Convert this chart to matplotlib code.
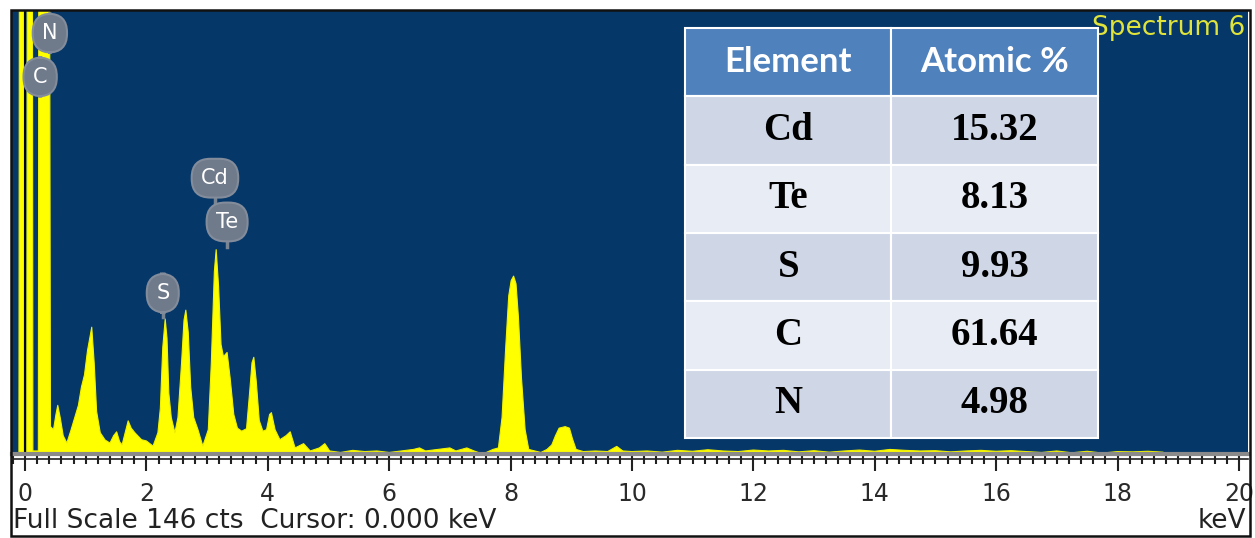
import matplotlib
matplotlib.use("Agg")
import matplotlib.pyplot as plt
from matplotlib.ticker import MultipleLocator
from matplotlib.patches import Rectangle
from matplotlib.lines import Line2D

# EDS spectrum (keV, counts); peaks above 146 run off scale
energy_kev = [-0.21, -0.10, -0.09, -0.03, -0.02, 0.03, 0.04, 0.12, 0.13, 0.22, 0.23, 0.40,
              0.42, 0.47, 0.51, 0.54, 0.58, 0.63, 0.69, 0.76, 0.82, 0.88, 0.93, 0.98, 1.03,
              1.10, 1.14, 1.18, 1.24, 1.32, 1.40, 1.46, 1.51, 1.56, 1.60, 1.65, 1.70, 1.75,
              1.81, 1.92, 2.00, 2.11, 2.19, 2.23, 2.27, 2.31, 2.34, 2.37, 2.41, 2.47, 2.52,
              2.58, 2.62, 2.65, 2.69, 2.73, 2.78, 2.85, 2.93, 3.02, 3.07, 3.12, 3.15, 3.19,
              3.23, 3.27, 3.33, 3.38, 3.44, 3.50, 3.57, 3.65, 3.70, 3.74, 3.77, 3.81, 3.86,
              3.92, 3.98, 4.03, 4.06, 4.12, 4.20, 4.30, 4.37, 4.45, 4.59, 4.70, 4.85, 4.94,
              5.02, 5.20, 5.40, 5.60, 5.80, 6.00, 6.20, 6.40, 6.50, 6.60, 6.80, 7.00, 7.10,
              7.28, 7.40, 7.50, 7.60, 7.71, 7.80, 7.86, 7.92, 7.97, 8.01, 8.05, 8.09, 8.13,
              8.18, 8.24, 8.30, 8.40, 8.50, 8.60, 8.68, 8.74, 8.80, 8.90, 8.97, 9.02, 9.08,
              9.20, 9.40, 9.60, 9.75, 9.85, 10.0, 10.25, 10.5, 10.75, 11.0, 11.25, 11.5,
              11.75, 12.0, 12.25, 12.5, 12.75, 13.0, 13.25, 13.5, 13.75, 14.0, 14.25, 14.5,
              14.75, 15.0, 15.25, 15.5, 15.75, 16.0, 16.25, 16.5, 16.75, 17.0, 17.25, 17.5,
              17.75, 18.0, 18.25, 18.5, 18.75, 18.8, 20.2]
counts = [0, 0, 220, 220, 0, 0, 220, 220, 1, 1, 220, 220,
          9, 8, 13, 16, 12, 6, 3.6, 8, 12, 16, 22, 26, 34,
          41.7, 30, 14, 7, 4.6, 3.6, 6, 7.3, 4, 3, 7, 10.9, 8.5,
          7, 4.7, 4.3, 2.6, 7, 15, 35, 44.4, 38, 20, 12, 7, 12,
          30, 44, 47.3, 40, 22, 12, 8, 2.6, 8, 30, 60, 67.2, 55,
          36, 32, 33.4, 25, 13, 8.5, 7.5, 8.3, 20, 30, 31.8, 24, 11,
          7.5, 8, 13, 13.6, 8, 4.7, 6, 7.3, 2, 3.4, 1, 2, 3.4,
          1, 0.5, 1.2, 0.8, 1.0, 0.5, 1, 1.5, 2, 1, 1.5, 2, 1,
          2, 1, 0.3, 0.5, 1.5, 2, 12, 35, 52, 57, 58.5, 56, 45,
          25, 8, 1.5, 1, 0.5, 1.5, 3, 6, 8.5, 9, 8.5, 5, 1.5,
          0.8, 1, 0.8, 2.5, 1, 0.8, 1.0, 0.6, 1.2, 0.9, 1.4, 1.0,
          0.8, 1.3, 1.0, 1.2, 0.7, 1.1, 0.6, 1.0, 1.3, 0.9, 1.5, 1.2,
          1.0, 1.1, 0.7, 1.0, 1.2, 0.9, 1.1, 0.8, 0.5, 1.0, 0.4, 0.9,
          0.3, 0.8, 0.7, 0.9, 0.6, 0, 0]

full_scale = 146

# peak labels: (symbol, keV, counts of bubble, counts where stem ends)
peak_labels = [("N", 0.41, 138.4, None), ("C", 0.25, 124.0, None),
               ("Cd", 3.13, 90.7, 82.0), ("Te", 3.33, 76.3, 68.0), ("S", 2.27, 52.9, 45.0)]

# quantification table
elements = ["Cd", "Te", "S", "C", "N"]
atomic_pct = ["15.32", "8.13", "9.93", "61.64", "4.98"]

W, H = 1255, 538
fig = plt.figure(figsize=(W / 100, H / 100), dpi=100)
fig.patch.set_facecolor("white")

ax = fig.add_axes([12 / W, (H - 454) / H, 1236 / W, 444 / H])
ax.set_facecolor("#053769")
ax.fill_between(energy_kev, counts, 0, color="#ffff00", lw=0)
ax.plot(energy_kev, counts, color="#f2f200", lw=0.8)
ax.axvline(0, color="black", lw=1.3)
ax.set_xlim(-0.214, 20.15)
ax.set_ylim(0, full_scale)

ax.set_yticks([])
for s in ("left", "right", "top"):
    ax.spines[s].set_visible(False)
ax.spines["bottom"].set_color("#8a8a8a")
ax.spines["bottom"].set_linewidth(3)
ax.set_xticks(range(0, 21, 2))
ax.xaxis.set_minor_locator(MultipleLocator(0.2))
ax.tick_params(axis="x", which="major", direction="out", length=12, width=1.5,
               color="#222222", pad=8, labelsize=17, labelcolor="#2a2a2a")
ax.tick_params(axis="x", which="minor", direction="out", length=7, width=1.5,
               color="#222222")
for lab in ax.get_xticklabels():
    lab.set_fontfamily("DejaVu Sans")

# element bubbles
for sym, kev, y, stem in peak_labels:
    if stem is not None:
        ax.plot([kev, kev], [y, stem], color="#7a8594", lw=2.5, zorder=4)
    ax.text(kev, y, sym, ha="center", va="center", fontsize=15, color="white",
            zorder=5, bbox=dict(boxstyle="round,pad=0.45,rounding_size=0.9",
                                fc="#6f7a8a", ec="#838c9b", lw=1.5))

ax.text(0.998, 0.96, "Spectrum 6", transform=ax.transAxes, ha="right", va="center",
        fontsize=19, color="#dfe33a", zorder=2)

# table overlay
tbl = ax.table(cellText=[[e, p] for e, p in zip(elements, atomic_pct)],
               colLabels=["Element", "Atomic %"], cellLoc="center",
               bbox=[0.5445, 0.036, 0.3341, 0.9234], zorder=10)
tbl.auto_set_font_size(False)
for (r, c), cell in tbl.get_celld().items():
    cell.set_edgecolor("white")
    cell.set_linewidth(1.5)
    txt = cell.get_text()
    if r == 0:
        cell.set_facecolor("#4f81bd")
        txt.set_color("white")
        txt.set_fontfamily("Lato")
        txt.set_fontweight("bold")
        txt.set_fontsize(25)
    else:
        cell.set_facecolor("#cfd7e7" if r % 2 == 1 else "#e8ecf4")
        txt.set_fontfamily("Liberation Serif")
        txt.set_fontweight("bold")
        txt.set_fontsize(28)
        txt.set_color("black")

# ruler line, frame and status texts
fig.add_artist(Line2D([12 / W, 1248 / W], [(H - 459) / H] * 2, color="#222222", lw=1.2))
fig.add_artist(Rectangle((11 / W, 2 / H), 1239 / W, 526 / H, transform=fig.transFigure,
                         fill=False, ec="#111111", lw=1.8))
fig.text(13 / W, (H - 521) / H, "Full Scale 146 cts  Cursor: 0.000 keV", ha="left",
         va="center", fontsize=19, color="#222222")
fig.text(1246 / W, (H - 521) / H, "keV", ha="right", va="center", fontsize=19,
         color="#222222")

fig.savefig("out.png", dpi=100)
